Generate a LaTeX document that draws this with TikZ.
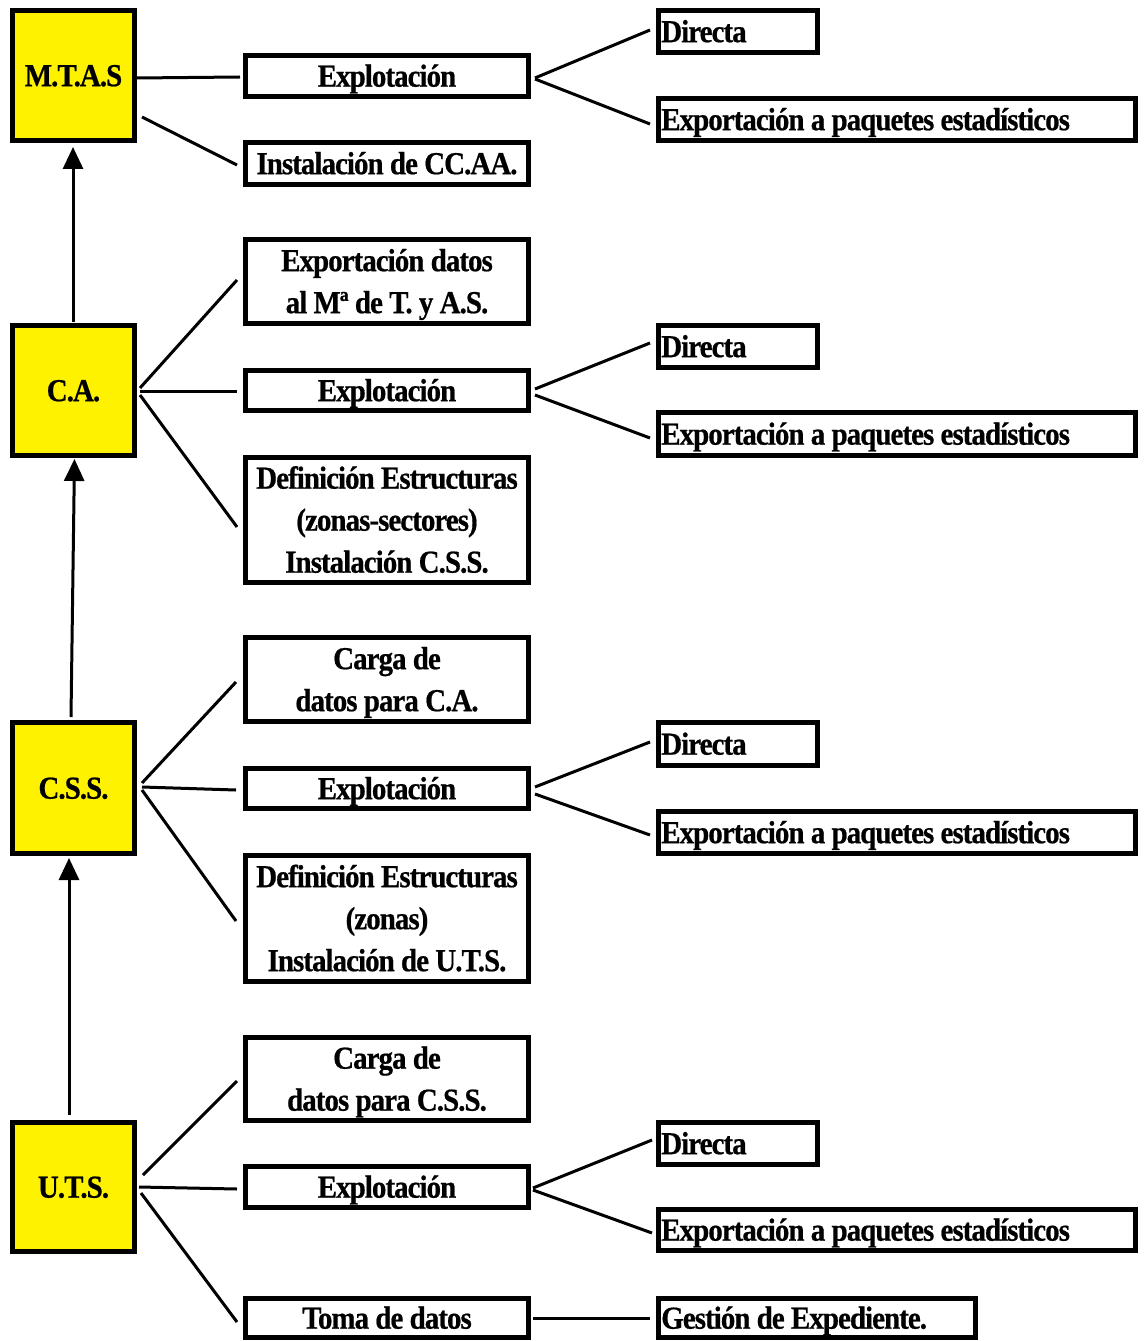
\documentclass[tikz,border=0pt]{standalone}
\usepackage{fontspec}
\setmainfont{Liberation Serif}[FakeStretch=0.905, LetterSpace=-3, BoldFeatures={FakeBold=0.6}]
\usetikzlibrary{arrows.meta,calc}
\newcommand\lblfont{\fontsize{24pt}{31.5pt}\selectfont\bfseries}
\begin{document}
\begin{tikzpicture}[x=0.75pt,y=-0.75pt,
  box/.style={draw, line width=3.75pt, inner sep=0pt, align=center, font=\lblfont},
  ybox/.style={box, fill=yellow},
  wh/.style 2 args={minimum width=#1*0.75pt, minimum height=#2*0.75pt},
  one/.style={text height=16pt, text depth=0pt},
  two/.style={text height=47.5pt, text depth=0pt},
  three/.style={text height=79pt, text depth=0pt},
  conn/.style={line width=2.25pt},
  up/.style={line width=2.25pt, -{Triangle[length=16.5pt,width=15pt]}},
  rtxt/.style={anchor=west, inner sep=0pt, font=\lblfont, one}]
\useasboundingbox (0,0) rectangle (1143,1341);

% yellow boxes
\node[ybox, wh={122}{130}, one] (mtas) at (73.5,75.5) {M.T.A.S};
\node[ybox, wh={122}{130}, one] (ca) at (73.5,390.5) {C.A.};
\node[ybox, wh={122}{131}, one] (css) at (73.5,788) {C.S.S.};
\node[ybox, wh={122}{129}, one] (uts) at (73.5,1187) {U.T.S.};

% middle boxes
\node[box, wh={283}{41}, one] (e1) at (387,76) {Explotación};
\node[box, wh={283}{42}, one] (inst) at (387,163.5) {Instalación de CC.AA.};
\node[box, wh={283}{84}, two] (exd) at (387,281.5) {Exportación datos\\al Mª de T. y A.S.};
\node[box, wh={283}{40}, one] (e2) at (387,390.5) {Explotación};
\node[box, wh={283}{125}, three] (def1) at (387,520) {Definición Estructuras\\(zonas-sectores)\\Instalación C.S.S.};
\node[box, wh={283}{84}, two] (c1) at (387,679.5) {Carga de\\datos para C.A.};
\node[box, wh={283}{40}, one] (e3) at (387,788.5) {Explotación};
\node[box, wh={283}{126}, three] (def2) at (387,918.5) {Definición Estructuras\\(zonas)\\Instalación de U.T.S.};
\node[box, wh={283}{83}, two] (c2) at (387,1079) {Carga de\\datos para C.S.S.};
\node[box, wh={283}{41}, one] (e4) at (387,1187) {Explotación};
\node[box, wh={283}{39}, one] (toma) at (387,1318) {Toma de datos};

% right boxes
\node[box, wh={159}{42}] (d1) at (738,31.5) {};
\node[rtxt] (d1t) at ($(d1.west)+(5,0)$) {Directa};
\node[box, wh={477}{42}] (x1) at (897,119.5) {};
\node[rtxt] (x1t) at ($(x1.west)+(5,0)$) {Exportación a paquetes estadísticos};
\node[box, wh={159}{42}] (d2) at (738,346.5) {};
\node[rtxt] (d2t) at ($(d2.west)+(5,0)$) {Directa};
\node[box, wh={477}{43}] (x2) at (897,434) {};
\node[rtxt] (x2t) at ($(x2.west)+(5,0)$) {Exportación a paquetes estadísticos};
\node[box, wh={159}{43}] (d3) at (738,744) {};
\node[rtxt] (d3t) at ($(d3.west)+(5,0)$) {Directa};
\node[box, wh={477}{42}] (x3) at (897,832.5) {};
\node[rtxt] (x3t) at ($(x3.west)+(5,0)$) {Exportación a paquetes estadísticos};
\node[box, wh={159}{42}] (d4) at (738,1143.5) {};
\node[rtxt] (d4t) at ($(d4.west)+(5,0)$) {Directa};
\node[box, wh={477}{41}] (x4) at (897,1230) {};
\node[rtxt] (x4t) at ($(x4.west)+(5,0)$) {Exportación a paquetes estadísticos};
\node[box, wh={317}{39}] (g) at (817,1318) {};
\node[rtxt] (gt) at ($(g.west)+(5,0)$) {Gestión de Expediente.};

% connectors M.T.A.S
\draw[conn] ($(mtas.east)+(0,2.5)$) -- ($(e1.west)+(-3,1)$);
\draw[conn] ($(mtas.east)+(5,41.5)$) -- ($(inst.west)+(-6,1.5)$);
\draw[conn] ($(e1.east)+(4,2)$) -- ($(d1.west)+(-6,-1.5)$);
\draw[conn] ($(e1.east)+(4,3)$) -- ($(x1.west)+(-6,4.5)$);
% C.A.
\draw[conn] ($(ca.east)+(3,-2.5)$) -- ($(exd.west)+(-6,-1.5)$);
\draw[conn] ($(ca.east)+(3,0.5)$) -- ($(e2.west)+(-6,0.5)$);
\draw[conn] ($(ca.east)+(3,4.5)$) -- ($(def1.west)+(-6,7)$);
\draw[conn] ($(e2.east)+(4,-1.5)$) -- ($(d2.west)+(-6,-3.5)$);
\draw[conn] ($(e2.east)+(4,4.5)$) -- ($(x2.west)+(-6,4)$);
% C.S.S.
\draw[conn] ($(css.east)+(5,-5)$) -- ($(c1.west)+(-7,2.5)$);
\draw[conn] ($(css.east)+(5,-1)$) -- ($(e3.west)+(-7,1.5)$);
\draw[conn] ($(css.east)+(5,2)$) -- ($(def2.west)+(-7,2.5)$);
\draw[conn] ($(e3.east)+(4,-1.5)$) -- ($(d3.west)+(-6,-2)$);
\draw[conn] ($(e3.east)+(4,5.5)$) -- ($(x3.west)+(-6,2.5)$);
% U.T.S.
\draw[conn] ($(uts.east)+(6,-12)$) -- ($(c2.west)+(-6,2)$);
\draw[conn] ($(uts.east)+(2,0)$) -- ($(e4.west)+(-6,2)$);
\draw[conn] ($(uts.east)+(4,6)$) -- ($(toma.west)+(-6,4)$);
\draw[conn] ($(e4.east)+(2,1)$) -- ($(d4.west)+(-4,-3.5)$);
\draw[conn] ($(e4.east)+(2,3)$) -- ($(x4.west)+(-4,3)$);
\draw[conn] ($(toma.east)+(2,0)$) -- ($(g.west)+(-6,0)$);

% upward arrows
\draw[up] ($(ca.north)+(-0.5,-1)$) -- ($(mtas.south)+(-0.5,4)$);
\draw[up] ($(css.north)+(-2.5,-3)$) -- ($(ca.south)+(1,1)$);
\draw[up] ($(uts.north)+(-4.5,-5)$) -- ($(css.south)+(-4.5,2)$);
\end{tikzpicture}
\end{document}
